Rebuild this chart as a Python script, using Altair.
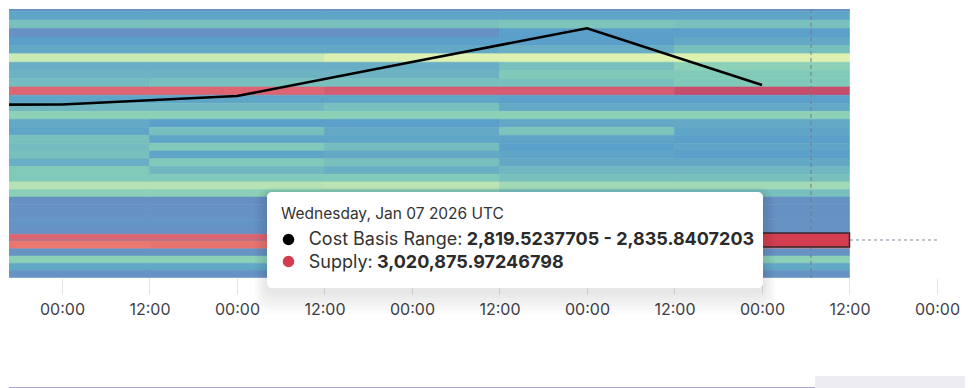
import altair as alt
import pandas as pd

# ---------------- data ----------------
DAYS = ["2026-01-03", "2026-01-04", "2026-01-05", "2026-01-06", "2026-01-07"]

# cost-basis price bins are geometric: every bin is BIN_HIGH/BIN_LOW wider than the one below
BIN_LOW = 2819.5237705
BIN_HIGH = 2835.8407203
ROW_BINS = list(range(30, -6, -1))   # bin index of every heatmap row, top row first

# supply per price bin (thousand ETH), top row first
SUPPLY_JAN03 = [320, 224, 352, 544, 208, 320, 384, 1056, 416, 448,
                512, 2880, 352, 480, 672, 384, 352, 544, 512, 544,
                416, 608, 608, 928, 672, 208, 224, 224, 240, 224,
                2880, 2720, 224, 672, 384, 224]
SUPPLY_JAN04 = [320, 224, 352, 544, 208, 320, 384, 1056, 416, 448,
                544, 2880, 352, 480, 672, 320, 544, 352, 608, 352,
                608, 480, 608, 928, 672, 208, 224, 224, 240, 224,
                2880, 2752, 224, 672, 384, 224]
SUPPLY_JAN05 = [320, 224, 352, 544, 208, 320, 384, 1184, 416, 448,
                544, 2944, 352, 544, 672, 320, 384, 352, 512, 384,
                544, 416, 608, 960, 640, 224, 224, 224, 224, 224,
                2912, 2752, 224, 672, 384, 224]
SUPPLY_JAN06 = [320, 224, 352, 576, 320, 320, 416, 1184, 544, 608,
                544, 2944, 320, 384, 672, 384, 576, 352, 320, 352,
                384, 480, 544, 800, 544, 224, 224, 224, 224, 224,
                2944, 2752, 224, 672, 384, 224]
SUPPLY_JAN07 = [320, 224, 352, 544, 320, 384, 544, 1184, 672, 608,
                608, 3040, 320, 384, 672, 384, 352, 320, 352, 320,
                384, 480, 544, 800, 544, 224, 224, 224, 224, 224,
                3020.87597246798, 2720, 224, 672, 384, 224]
SUPPLY = [SUPPLY_JAN03, SUPPLY_JAN04, SUPPLY_JAN05, SUPPLY_JAN06, SUPPLY_JAN07]
SUPPLY_MAX = 3200

# price line (daily, USD)
PRICE_DAYS = ["2026-01-02", "2026-01-03", "2026-01-04", "2026-01-05", "2026-01-06", "2026-01-07"]
PRICE = [3124.9, 3125.3, 3144.3, 3220.1, 3295.3, 3168.8]

# hovered position
HOVER_TIME = "2026-01-07T06:43:00Z"
HOVER_DAY = "2026-01-07"
HOVER_PRICE = 2823.1
HILITE_HALF = 15.6

# axis
TICKS = ["2026-01-03T00:00", "2026-01-03T12:00", "2026-01-04T00:00", "2026-01-04T12:00",
         "2026-01-05T00:00", "2026-01-05T12:00", "2026-01-06T00:00", "2026-01-06T12:00",
         "2026-01-07T00:00", "2026-01-07T12:00", "2026-01-08T00:00"]
X_START = "2026-01-02T16:44"
X_END = "2026-01-08T00:00"
Y_DOMAIN = [2738.3, 3338.4]

# tooltip text
TIP_TITLE = "Wednesday, Jan 07 2026 UTC"
TIP_RANGE_LABEL = "Cost Basis Range:"
TIP_RANGE_VALUE = "2,819.5237705 - 2,835.8407203"
TIP_SUPPLY_LABEL = "Supply:"
TIP_SUPPLY_VALUE = "3,020,875.97246798"

# colour scheme: spectral (low -> high), seen at 80% over white
SPECTRAL = ["5e4fa2", "3288bd", "66c2a5", "abdda4", "e6f598", "ffffbf",
            "fee08b", "fdae61", "f46d43", "d53e4f", "9e0142"]


def blend(h, a=0.8):
    c = [int(h[i:i + 2], 16) for i in (0, 2, 4)]
    return "#" + "".join("%02x" % round(v * a + 255 * (1 - a)) for v in c)


COLOR_RANGE = [blend(h) for h in SPECTRAL]
COLOR_DOMAIN = [SUPPLY_MAX * i / (len(SPECTRAL) - 1) for i in range(len(SPECTRAL))]

# ---------------- tables ----------------
ratio = BIN_HIGH / BIN_LOW
rows = []
for day, col in zip(DAYS, SUPPLY):
    d = pd.Timestamp(day, tz="UTC")
    for j, v in zip(ROW_BINS, col):
        rows.append({
            "start": (d - pd.Timedelta(hours=12)).isoformat(),
            "end": (d + pd.Timedelta(hours=12)).isoformat(),
            "lo": BIN_LOW * ratio ** j,
            "hi": BIN_LOW * ratio ** (j + 1),
            "supply": v,
        })
heat = pd.DataFrame(rows)

line_df = pd.DataFrame({
    "t": [pd.Timestamp(d, tz="UTC").isoformat() for d in PRICE_DAYS],
    "price": PRICE,
})

hd = pd.Timestamp(HOVER_DAY, tz="UTC")
hover_df = pd.DataFrame({
    "t": [HOVER_TIME],
    "price": [HOVER_PRICE],
    "start": [(hd - pd.Timedelta(hours=12)).isoformat()],
    "end": [(hd + pd.Timedelta(hours=12)).isoformat()],
    "lo": [HOVER_PRICE - HILITE_HALF],
    "hi": [HOVER_PRICE + HILITE_HALF],
})


def dt(s):
    ts = pd.Timestamp(s)
    return alt.DateTime(year=ts.year, month=ts.month, date=ts.day,
                        hours=ts.hour, minutes=ts.minute, utc=True)


xscale = alt.Scale(type="utc", domain=[dt(X_START), dt(X_END)])
yscale = alt.Scale(domain=Y_DOMAIN, zero=False, nice=False)
xaxis = alt.Axis(values=[dt(t) for t in TICKS], format="%H:%M", domain=False, grid=False,
                 ticks=True, tickColor="#e4e4e8", tickSize=16, tickWidth=1,
                 labelFontSize=16, labelColor="#3f3f4a", labelFont="Inter",
                 labelPadding=7, title=None, labelFlush=False, labelOverlap=False)

cscale = alt.Scale(domain=COLOR_DOMAIN, range=COLOR_RANGE, interpolate="rgb")

heatmap = alt.Chart(heat).mark_rect(clip=True, strokeWidth=0.6).encode(
    x=alt.X("start:T", scale=xscale, axis=xaxis),
    x2="end:T",
    y=alt.Y("lo:Q", scale=yscale, axis=None),
    y2="hi:Q",
    color=alt.Color("supply:Q", legend=None, scale=cscale),
    stroke=alt.Stroke("supply:Q", legend=None, scale=cscale),
)

price_line = alt.Chart(line_df).mark_line(color="black", strokeWidth=2.6, clip=True).encode(
    x=alt.X("t:T", scale=xscale, axis=xaxis),
    y=alt.Y("price:Q", scale=yscale, axis=None),
)

vrule = alt.Chart(hover_df).mark_rule(color="#6e7b8c", strokeDash=[4, 3], strokeWidth=1).encode(
    x=alt.X("t:T", scale=xscale, axis=xaxis),
)
hrule = alt.Chart(hover_df).mark_rule(color="#7d8b9b", strokeDash=[3, 3], strokeWidth=1).encode(
    y=alt.Y("price:Q", scale=yscale, axis=None),
)
hilite = alt.Chart(hover_df).mark_rect(color="#d33f51", stroke="#35282e", strokeWidth=1.5).encode(
    x=alt.X("start:T", scale=xscale, axis=xaxis),
    x2="end:T",
    y=alt.Y("lo:Q", scale=yscale, axis=None),
    y2="hi:Q",
)

one = pd.DataFrame({"k": [0]})
layers = [heatmap, price_line, vrule, hrule, hilite]

# tooltip shadow + box
for i in range(1, 7):
    layers.append(alt.Chart(one).mark_rect(color="black", opacity=0.014, cornerRadius=5 + 2 * i).encode(
        x=alt.value(258 - 2 * i), x2=alt.value(754 + 2 * i),
        y=alt.value(184 - i), y2=alt.value(281 + 4 * i)))
layers.append(alt.Chart(one).mark_rect(color="white", cornerRadius=5).encode(
    x=alt.value(258), x2=alt.value(754), y=alt.value(183), y2=alt.value(279)))

FONT = "Inter"
layers.append(alt.Chart(one).mark_text(text=TIP_TITLE, font=FONT, fontSize=15.5, color="#333333",
                                       align="left", baseline="alphabetic").encode(
    x=alt.value(272), y=alt.value(209.5)))
layers.append(alt.Chart(one).mark_point(filled=True, color="black", size=135, opacity=1).encode(
    x=alt.value(279.5), y=alt.value(230.5)))
layers.append(alt.Chart(one).mark_point(filled=True, color="#d43d51", size=135, opacity=1).encode(
    x=alt.value(279.5), y=alt.value(252.5)))
layers.append(alt.Chart(one).mark_text(text=TIP_RANGE_LABEL, font=FONT, fontSize=18, color="#333333",
                                       align="left", baseline="alphabetic").encode(
    x=alt.value(299.7), y=alt.value(236)))
layers.append(alt.Chart(one).mark_text(text=TIP_RANGE_VALUE, font=FONT, fontSize=18, fontWeight="bold",
                                       color="#2b2b2b", align="left", baseline="alphabetic").encode(
    x=alt.value(457.7), y=alt.value(236)))
layers.append(alt.Chart(one).mark_text(text=TIP_SUPPLY_LABEL, font=FONT, fontSize=18, color="#333333",
                                       align="left", baseline="alphabetic").encode(
    x=alt.value(299.7), y=alt.value(258.5)))
layers.append(alt.Chart(one).mark_text(text=TIP_SUPPLY_VALUE, font=FONT, fontSize=18, fontWeight="bold",
                                       color="#2b2b2b", align="left", baseline="alphabetic").encode(
    x=alt.value(368), y=alt.value(258.5)))

# page furniture below the chart (range bar); kept inside the 964px drawable width
layers.append(alt.Chart(one).mark_rule(color="#a9a2cb", strokeWidth=2).encode(
    x=alt.value(0), x2=alt.value(806), y=alt.value(379)))
layers.append(alt.Chart(one).mark_rect(color="#ececf1").encode(
    x=alt.value(806), x2=alt.value(956), y=alt.value(367), y2=alt.value(380)))

chart = alt.layer(*layers).properties(
    width=928, height=269, padding=0
).configure_view(strokeWidth=0).configure_axis(labelFont="Inter")

chart.save("out.html", embed_options={"renderer": "svg", "actions": False})
